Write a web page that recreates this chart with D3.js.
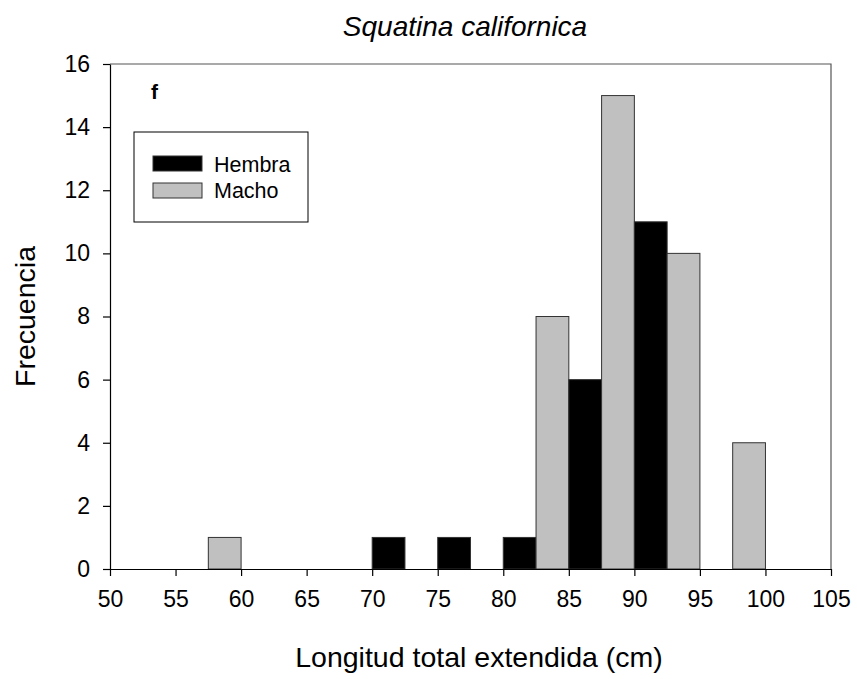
<!DOCTYPE html>
<html>
<head>
<meta charset="utf-8">
<script src="https://cdn.jsdelivr.net/npm/d3@7"></script>
<style>
  body { margin: 0; background: #fff; }
  text { font-family: "Liberation Sans", Arial, sans-serif; fill: #000; }
</style>
</head>
<body>
<svg id="chart" width="857" height="679"></svg>
<script>
// Length-frequency histogram, bins of 2.5 cm
const binStarts = [57.5, 70, 75, 80, 82.5, 85, 87.5, 90, 92.5, 97.5];
const counts    = [1,    1,  1,  1,  8,    6,  15,   11, 10,   4];
const sexes     = ["Macho", "Hembra", "Hembra", "Hembra", "Macho", "Hembra", "Macho", "Hembra", "Macho", "Macho"];
const binWidth = 2.5;
const xTicks = [50, 55, 60, 65, 70, 75, 80, 85, 90, 95, 100, 105];
const yTicks = [0, 2, 4, 6, 8, 10, 12, 14, 16];
const legendItems = ["Hembra", "Macho"];
const fills = { Hembra: "#000000", Macho: "#c0c0c0" };

const svg = d3.select("#chart");
const plotL = 110, plotR = 831, plotT = 64, plotB = 569;

const x = d3.scaleLinear().domain([50, 105]).range([plotL, plotR]);
const y = d3.scaleLinear().domain([0, 16]).range([plotB, plotT]);

// frame (top and right)
svg.append("path")
  .attr("d", `M${plotL},${plotT}H${plotR}V${plotB}`)
  .attr("fill", "none").attr("stroke", "#555").attr("stroke-width", 1.2);

// bars
const data = binStarts.map((s, i) => ({ start: s, count: counts[i], sex: sexes[i] }));
svg.append("g").selectAll("rect").data(data).join("rect")
  .attr("x", d => x(d.start))
  .attr("width", d => x(d.start + binWidth) - x(d.start))
  .attr("y", d => y(d.count))
  .attr("height", d => y(0) - y(d.count))
  .attr("fill", d => fills[d.sex])
  .attr("stroke", "#333").attr("stroke-width", 1);

// axes
const xAxis = svg.append("g").attr("transform", `translate(0,${plotB})`)
  .call(d3.axisBottom(x).tickValues(xTicks).tickSize(7).tickPadding(15).tickSizeOuter(0));
const yAxis = svg.append("g").attr("transform", `translate(${plotL},0)`)
  .call(d3.axisLeft(y).tickValues(yTicks).tickSize(7).tickPadding(13).tickSizeOuter(0));
[xAxis, yAxis].forEach(g => {
  g.select(".domain").attr("stroke", "#000").attr("stroke-width", 1.2);
  g.selectAll(".tick line").attr("stroke", "#000").attr("stroke-width", 1.2);
  g.selectAll(".tick text").style("font-family", "Liberation Sans, Arial, sans-serif").style("font-size", "23px").attr("fill", "#000");
});

// titles
svg.append("text").attr("x", 465).attr("y", 36)
  .attr("text-anchor", "middle").style("font-size", "28px").style("font-style", "italic")
  .text("Squatina californica");
svg.append("text").attr("x", 479).attr("y", 667)
  .attr("text-anchor", "middle").style("font-size", "28.5px")
  .text("Longitud total extendida (cm)");
svg.append("text").attr("transform", `translate(35,${(plotT + plotB) / 2}) rotate(-90)`)
  .attr("text-anchor", "middle").style("font-size", "28.5px")
  .text("Frecuencia");

// panel letter
svg.append("text").attr("x", 151).attr("y", 99)
  .style("font-size", "21px").style("font-weight", "bold").text("f");

// legend
const lg = svg.append("g");
lg.append("rect").attr("x", 134).attr("y", 132).attr("width", 174).attr("height", 90)
  .attr("fill", "#fff").attr("stroke", "#000").attr("stroke-width", 1);
legendItems.forEach((k, i) => {
  lg.append("rect").attr("x", 153).attr("y", 156 + i * 27).attr("width", 49).attr("height", 15)
    .attr("fill", fills[k]).attr("stroke", "#333").attr("stroke-width", 1);
  lg.append("text").attr("x", 214).attr("y", 172 + i * 26)
    .style("font-size", "21.5px").text(k);
});
</script>
</body>
</html>
